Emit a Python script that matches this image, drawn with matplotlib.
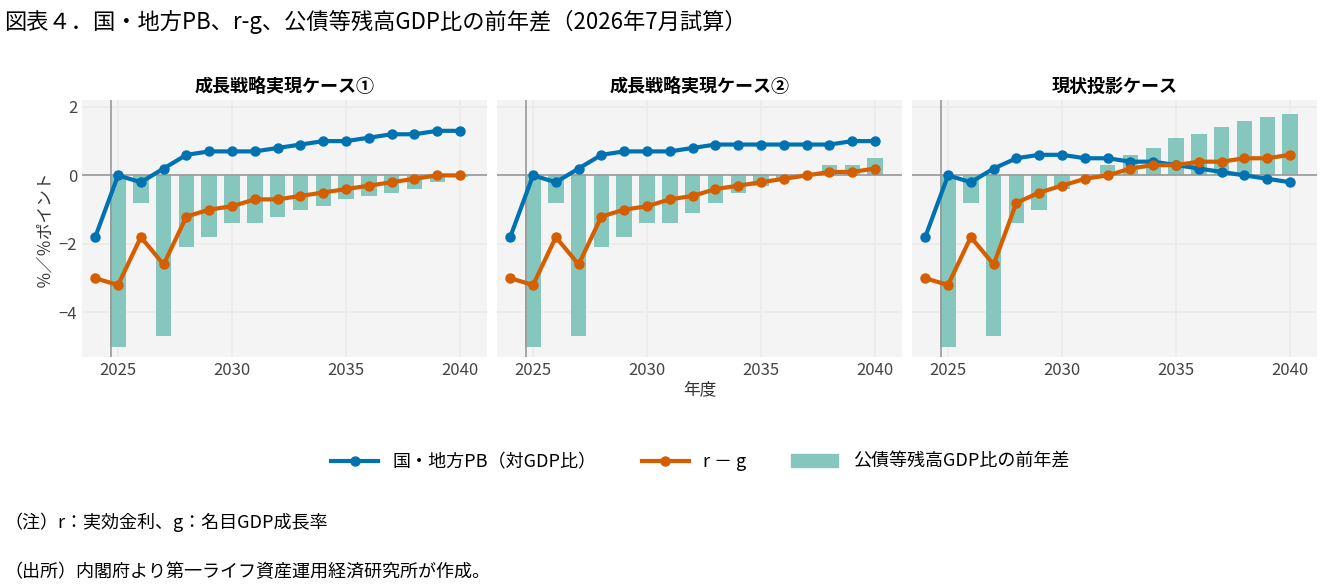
import matplotlib
matplotlib.use("Agg")
from matplotlib import pyplot as plt
from matplotlib.patches import Patch
from matplotlib.lines import Line2D
import numpy as np

plt.rcParams['font.family'] = ['Noto Sans CJK JP', 'DejaVu Sans']

years = np.arange(2024, 2041)
bar_years = np.arange(2025, 2041)
titles = ["成長戦略実現ケース①", "成長戦略実現ケース②", "現状投影ケース"]

pb = [
    [-1.8, 0, -0.2, 0.2, 0.6, 0.7, 0.7, 0.7, 0.8, 0.9, 1.0, 1.0, 1.1, 1.2, 1.2, 1.3, 1.3],
    [-1.8, 0, -0.2, 0.2, 0.6, 0.7, 0.7, 0.7, 0.8, 0.9, 0.9, 0.9, 0.9, 0.9, 0.9, 1.0, 1.0],
    [-1.8, 0, -0.2, 0.2, 0.5, 0.6, 0.6, 0.5, 0.5, 0.4, 0.4, 0.3, 0.2, 0.1, 0.0, -0.1, -0.2],
]
rg = [
    [-3.0, -3.2, -1.8, -2.6, -1.2, -1.0, -0.9, -0.7, -0.7, -0.6, -0.5, -0.4, -0.3, -0.2, -0.1, 0.0, 0.0],
    [-3.0, -3.2, -1.8, -2.6, -1.2, -1.0, -0.9, -0.7, -0.6, -0.4, -0.3, -0.2, -0.1, 0.0, 0.1, 0.1, 0.2],
    [-3.0, -3.2, -1.8, -2.6, -0.8, -0.5, -0.3, -0.1, 0.0, 0.2, 0.3, 0.3, 0.4, 0.4, 0.5, 0.5, 0.6],
]
debt = [
    [-5.0, -0.8, -4.7, -2.1, -1.8, -1.4, -1.4, -1.2, -1.0, -0.9, -0.7, -0.6, -0.5, -0.4, -0.2, -0.05],
    [-5.0, -0.8, -4.7, -2.1, -1.8, -1.4, -1.4, -1.1, -0.8, -0.5, -0.3, -0.1, 0.05, 0.3, 0.3, 0.5],
    [-5.0, -0.8, -4.7, -1.4, -1.0, -0.4, 0.0, 0.3, 0.6, 0.8, 1.1, 1.2, 1.4, 1.6, 1.7, 1.8],
]

blue = "#0072B2"
orange = "#D55E00"
teal = "#85C7BD"

fig = plt.figure(figsize=(13.21, 5.85), dpi=100)
lefts = [82, 497, 912]
axes = []
for i in range(3):
    ax = fig.add_axes([lefts[i] / 1321, 1 - 357 / 585, 405 / 1321, 257 / 585])
    ax.set_facecolor("#F4F4F4")
    ax.bar(bar_years, debt[i], width=0.68, color=teal, zorder=2)
    ax.axhline(0, color="#999999", lw=1.2, zorder=3)
    ax.axvline(2024.7, color="#999999", lw=1.2, zorder=3)
    ax.plot(years, pb[i], color=blue, lw=3, marker="o", ms=6.5, zorder=4)
    ax.plot(years, rg[i], color=orange, lw=3, marker="o", ms=6.5, zorder=4)
    ax.set_xlim(2023.42, 2041.18)
    ax.set_ylim(-5.3, 2.2)
    ax.set_xticks([2025, 2030, 2035, 2040])
    ax.set_yticks([-4, -2, 0, 2])
    ax.grid(True, color="#EBEBEB", lw=1.2, zorder=0)
    ax.set_axisbelow(True)
    for s in ax.spines.values():
        s.set_visible(False)
    ax.tick_params(length=0, labelsize=12, colors="#444444")
    if i > 0:
        ax.set_yticklabels([])
    ax.set_title(titles[i], fontsize=13, fontweight="bold", pad=6)
    axes.append(ax)

axes[0].set_ylabel("％／％ポイント", fontsize=12, color="#333333")
axes[1].set_xlabel("年度", fontsize=12, color="#333333", labelpad=2)

handles = [
    Line2D([], [], color=blue, lw=3, marker="o", ms=6.5),
    Line2D([], [], color=orange, lw=3, marker="o", ms=6.5),
    Patch(color=teal),
]
fig.legend(handles, ["国・地方PB（対GDP比）", "r － g", "公債等残高GDP比の前年差"],
           loc="center", bbox_to_anchor=(0.53, 1 - 462 / 585), ncol=3, frameon=False,
           fontsize=13, handlelength=2.6, columnspacing=2.5)

fig.text(0.003, 1 - 22 / 585, "図表４．国・地方PB、r-g、公債等残高GDP比の前年差（2026年7月試算）",
         fontsize=16, va="center")
fig.text(0.003, 1 - 522 / 585, "（注）r：実効金利、g：名目GDP成長率", fontsize=13, va="center")
fig.text(0.003, 1 - 572 / 585, "（出所）内閣府より第一ライフ資産運用経済研究所が作成。", fontsize=13, va="center")

fig.savefig("out.png", dpi=100)
